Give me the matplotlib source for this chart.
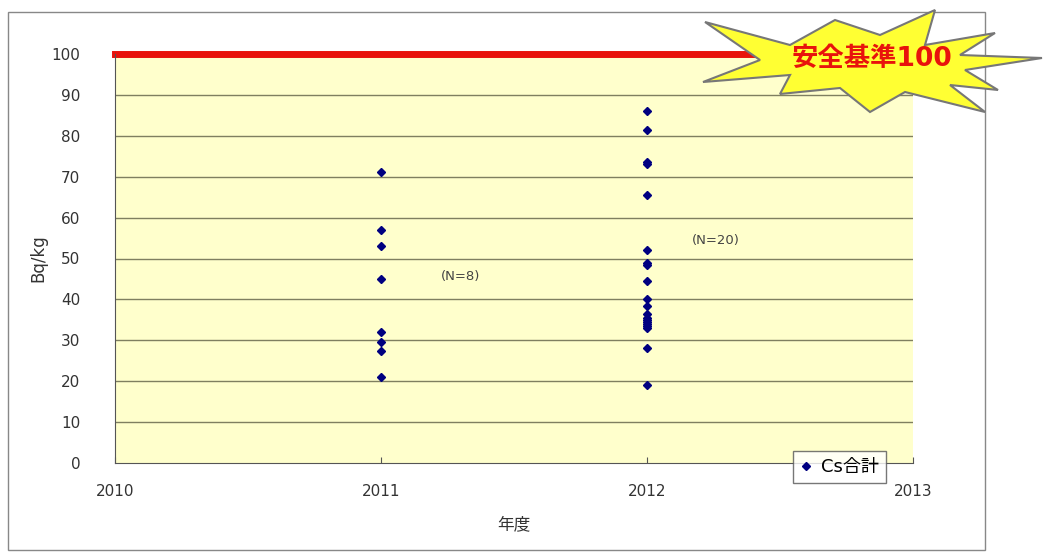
import numpy as np
import matplotlib.pyplot as plt
from matplotlib.patches import Polygon, Rectangle

plt.rcParams['font.family'] = ['DejaVu Sans', 'Noto Sans CJK JP']

# data
years_2011 = [2011] * 8
vals_2011 = [71.2, 57, 53, 45, 32, 29.5, 27.5, 21]
years_2012 = [2012] * 20
vals_2012 = [86, 81.5, 73.5, 73, 65.5, 52, 49, 48.5, 44.5, 40,
             38.5, 36.5, 35.5, 35, 34.5, 34, 33.5, 33, 28, 19]
x_ticks = [2010, 2011, 2012, 2013]
y_ticks = list(range(0, 101, 10))
limit = 100
n_labels = [(2011.3, 45.5, '(N=8)'), (2012.26, 54.5, '(N=20)')]

W, H = 1046, 555
fig = plt.figure(figsize=(W / 100, H / 100), dpi=100)
ax = fig.add_axes([115 / W, 1 - 463 / H, 798 / W, 409 / H])
ax.set_facecolor('#FFFFCC')

xs = years_2011 + years_2012
ys = vals_2011 + vals_2012
ax.plot(xs, ys, linestyle='none', marker='D', markersize=4.5,
        color='#000080', label='Cs合計', zorder=3)

for v in y_ticks[1:-1]:
    ax.axhline(v, color='#7f7f60', linewidth=1, zorder=1)
ax.axhline(limit, color='#e8130c', linewidth=5, zorder=2, clip_on=False)

ax.set_xlim(2010, 2013)
ax.set_ylim(0, 100)
ax.set_xticks(x_ticks)
ax.set_yticks(y_ticks)
ax.tick_params(axis='x', direction='in', length=4, pad=15, labelsize=11,
               labelcolor='#333333', color='#555555')
ax.tick_params(axis='y', length=0, pad=25, labelsize=11, labelcolor='#333333')
ax.spines['top'].set_visible(False)
ax.spines['right'].set_visible(False)
ax.spines['left'].set_color('#555555')
ax.spines['bottom'].set_color('#555555')

ax.set_xlabel('年度', fontsize=12, color='#333333', labelpad=12)
ax.set_ylabel('Bq/kg', fontsize=12, color='#333333', labelpad=3)

for x, y, t in n_labels:
    ax.text(x, y, t, fontsize=9.5, color='#444444', ha='center', va='center')

leg = ax.legend(loc='lower left', bbox_to_anchor=(0.849, -0.05),
                frameon=True, fancybox=False, edgecolor='#555555',
                fontsize=13, handlelength=0.7, handletextpad=0.5,
                borderpad=0.4, borderaxespad=0)
leg.get_frame().set_linewidth(1)

# outer chart frame
fig.add_artist(Rectangle((8 / W, 1 - 550 / H), 977 / W, 538 / H,
                         transform=fig.transFigure, fill=False,
                         edgecolor='#888888', linewidth=1, zorder=0.5))

# starburst callout
star = [(705, 22), (790, 45), (835, 20), (880, 35), (935, 10), (925, 45),
        (995, 33), (960, 55), (1042, 58), (965, 70), (998, 90), (950, 85),
        (985, 112), (905, 92), (870, 112), (840, 88), (780, 94), (790, 75),
        (703, 82), (760, 60)]
star_fig = [(x / W, 1 - y / H) for x, y in star]
fig.add_artist(Polygon(star_fig, closed=True, transform=fig.transFigure,
                       facecolor='#FFFF33', edgecolor='#777777',
                       linewidth=1.5, zorder=5))
fig.text(872 / W, 1 - 59 / H, '安全基準100', fontsize=19, color='#e8130c',
         fontweight='bold', ha='center', va='center', zorder=6)

fig.savefig('out.png', dpi=100)
